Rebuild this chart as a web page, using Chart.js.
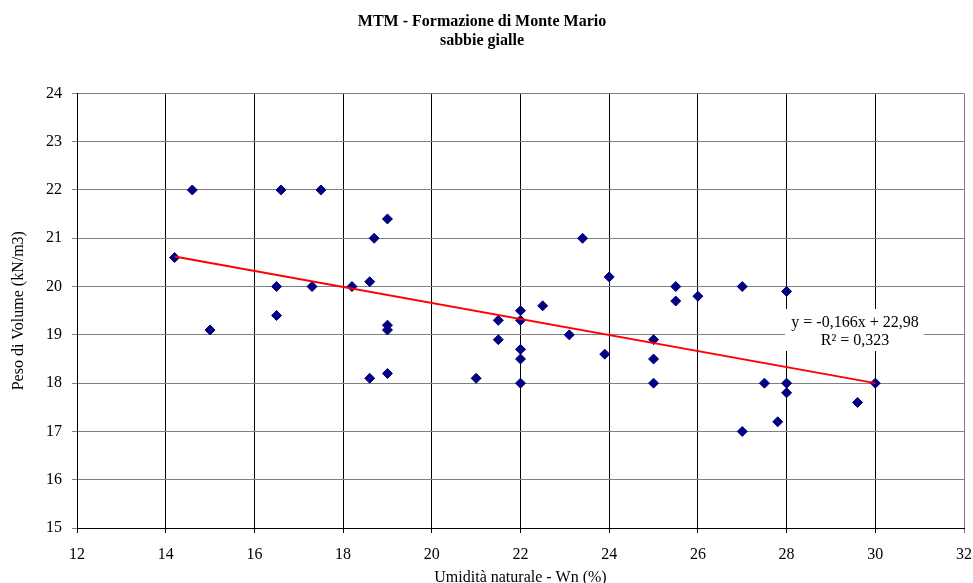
<!DOCTYPE html>
<html>
<head>
<meta charset="utf-8">
<script src="https://cdn.jsdelivr.net/npm/chart.js@4/dist/chart.umd.min.js"></script>
<style>
  body { margin: 0; background: #fff; }
</style>
</head>
<body>
<canvas id="chart" width="973" height="583"></canvas>
<script>
// Umidità naturale Wn (%) e peso di volume (kN/m3) dei campioni
const wn   = [14.2, 14.6, 15.0, 16.5, 16.5, 16.6, 17.3, 17.5, 18.2, 18.6, 18.6, 18.7, 19.0, 19.0, 19.0, 19.0,
              21.0, 21.5, 21.5, 22.0, 22.0, 22.0, 22.0, 22.0, 22.5, 23.1, 23.4, 23.9, 24.0, 25.0, 25.0, 25.0,
              25.5, 25.5, 26.0, 27.0, 27.0, 27.5, 27.8, 28.0, 28.0, 28.0, 29.6, 30.0];
const peso = [20.6, 22.0, 19.1, 20.0, 19.4, 22.0, 20.0, 22.0, 20.0, 20.1, 18.1, 21.0, 21.4, 19.2, 19.1, 18.2,
              18.1, 19.3, 18.9, 19.5, 19.3, 18.7, 18.5, 18.0, 19.6, 19.0, 21.0, 18.6, 20.2, 18.9, 18.5, 18.0,
              20.0, 19.7, 19.8, 20.0, 17.0, 18.0, 17.2, 19.9, 18.0, 17.8, 17.6, 18.0];

// retta di tendenza (come riportata sul grafico)
const trendX = [14.2, 30];
const slope = -0.166;
const intercept = 22.98;
const trendLabel = ['y = -0,166x + 22,98', 'R² = 0,323'];

const xTicks = [12, 14, 16, 18, 20, 22, 24, 26, 28, 30, 32];
const yTicks = [15, 16, 17, 18, 19, 20, 21, 22, 23, 24];

const serif = '"Liberation Serif", "Times New Roman", serif';

// etichetta dell'equazione con sfondo bianco
const trendLabelPlugin = {
    id: 'trendLabel',
    afterDatasetsDraw(chart) {
        const ctx = chart.ctx;
        const xs = chart.scales.x, ys = chart.scales.y;
        const cx = Math.round(xs.getPixelForValue(29.55));
        const cy = Math.round(ys.getPixelForValue(19.06));
        ctx.save();
        ctx.fillStyle = '#fff';
        ctx.fillRect(cx - 70, cy - 23, 139, 42);
        ctx.fillStyle = '#000';
        ctx.font = '16px ' + serif;
        ctx.textAlign = 'center';
        ctx.textBaseline = 'middle';
        ctx.fillText(trendLabel[0], cx, cy - 9);
        ctx.fillText(trendLabel[1], cx, cy + 9);
        ctx.restore();
    }
};

new Chart(document.getElementById('chart'), {
    type: 'scatter',
    data: {
        datasets: [{
            label: 'dati',
            data: wn.map((x, i) => ({ x: x, y: peso[i] })),
            pointStyle: 'rectRot',
            pointRadius: 5,
            backgroundColor: '#000080',
            borderColor: '#000080',
            borderWidth: 1,
            order: 2
        }, {
            label: 'tendenza',
            type: 'line',
            data: trendX.map(x => ({ x: x, y: slope * x + intercept })),
            borderColor: '#ff0000',
            borderWidth: 2,
            pointRadius: 0,
            fill: false,
            order: 1
        }]
    },
    options: {
        responsive: false,
        animation: false,
        layout: { padding: { left: 0, right: 9, top: 0, bottom: 0 } },
        plugins: {
            legend: { display: false },
            tooltip: { enabled: false },
            title: {
                display: true,
                text: ['MTM - Formazione di Monte Mario', 'sabbie gialle'],
                color: '#000',
                font: { family: serif, size: 16, weight: 'bold', lineHeight: 1.2 },
                padding: { top: 12, bottom: 43 }
            }
        },
        scales: {
            x: {
                type: 'linear',
                min: 12,
                max: 32,
                afterFit: s => { s.height = 55; s.paddingRight = 0; s.paddingLeft = 0; },
                afterBuildTicks: s => { s.ticks = xTicks.map(v => ({ value: v })); },
                grid: {
                    color: c => (c.tick && c.tick.value === 32 ? '#808080' : '#000'),
                    lineWidth: 1,
                    tickLength: 5
                },
                border: { color: '#000', width: 1 },
                ticks: { color: '#000', font: { family: serif, size: 16 }, padding: 12, maxRotation: 0 },
                title: {
                    display: true,
                    text: 'Umidità naturale - Wn (%)',
                    color: '#000',
                    font: { family: serif, size: 16, lineHeight: 1 },
                    padding: { top: 0, bottom: -3 }
                }
            },
            y: {
                min: 15,
                max: 24,
                afterFit: s => { s.width = 77; s.paddingTop = 0; s.paddingBottom = 0; },
                afterBuildTicks: s => { s.ticks = yTicks.map(v => ({ value: v })); },
                grid: { color: '#808080', lineWidth: 1, tickLength: 5 },
                border: { color: '#000', width: 1 },
                ticks: { color: '#000', font: { family: serif, size: 16 }, padding: 10 },
                title: {
                    display: true,
                    text: 'Peso di Volume (kN/m3)',
                    color: '#000',
                    font: { family: serif, size: 16, lineHeight: 1 },
                    padding: { top: 11, bottom: 0 }
                }
            }
        }
    },
    plugins: [trendLabelPlugin]
});
</script>
</body>
</html>
